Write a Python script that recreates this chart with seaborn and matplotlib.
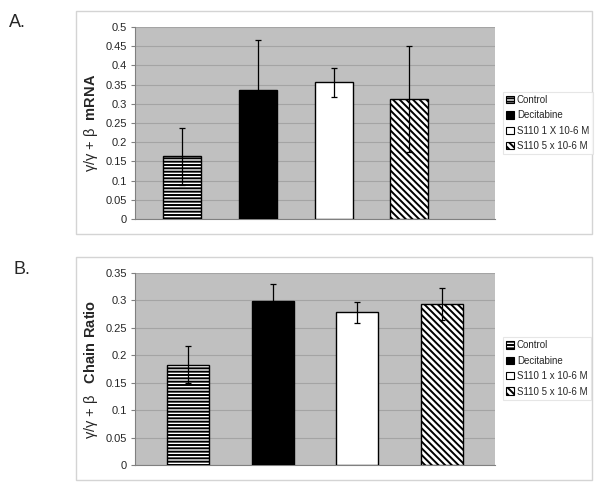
import numpy as np
import pandas as pd
import seaborn as sns
import matplotlib
matplotlib.use("Agg")
from matplotlib import pyplot as plt
from matplotlib.patches import Patch, Rectangle

# data
groups = ['Control', 'Decitabine', 'S110 1x', 'S110 5x']
mrna_mean = [0.163, 0.335, 0.356, 0.312]
mrna_err = [0.075, 0.130, 0.038, 0.138]
chain_mean = [0.183, 0.299, 0.278, 0.293]
chain_err = [0.033, 0.031, 0.019, 0.029]
legend_a = ['Control', 'Decitabine', 'S110 1 X 10-6 M', 'S110 5 x 10-6 M']
legend_b = ['Control', 'Decitabine', 'S110 1 x 10-6 M', 'S110 5 x 10-6 M']

sns.set_style('white')
plt.rcParams['font.family'] = ['Liberation Sans', 'DejaVu Sans']
plt.rcParams['mathtext.fontset'] = 'custom'
plt.rcParams['mathtext.bf'] = 'Liberation Sans:bold'
plt.rcParams['hatch.linewidth'] = 1.4

fills = ['white', 'black', 'white', 'white']
hatches = ['-----', None, None, '\\\\\\\\\\']

fig = plt.figure(figsize=(6, 4.9), dpi=100)

# outer chart frames
for y0 in (0.522, 0.0204):
    fig.patches.append(Rectangle((0.127, y0), 0.86, 0.455, transform=fig.transFigure,
                                 facecolor='white', edgecolor='#d4d4d4', lw=1, zorder=-5))

def panel(rect, means, errs, ymax, ystep, ylabel, labels, xlim, leg_y):
    ax = fig.add_axes(rect)
    df = pd.DataFrame({'group': groups, 'value': means})
    sns.barplot(data=df, x='group', y='value', order=groups, width=0.5,
                color='white', ax=ax, zorder=3)
    for p, fc, h in zip(ax.patches, fills, hatches):
        p.set_facecolor(fc)
        p.set_edgecolor('black')
        p.set_linewidth(1.0)
        if h:
            p.set_hatch(h)
    ax.errorbar(range(len(groups)), means, yerr=errs, fmt='none', ecolor='black',
                elinewidth=0.9, capsize=2.5, capthick=0.9, zorder=4)
    ax.set_facecolor('#c0c0c0')
    ax.set_ylim(0, ymax)
    ax.set_xlim(*xlim)
    yt = np.round(np.arange(0, ymax + 1e-9, ystep), 2)
    ax.set_yticks(yt)
    ax.set_yticklabels(['0' if v == 0 else ('%g' % v) for v in yt], fontsize=8)
    ax.yaxis.grid(True, color='#a4a4a4', lw=0.8, zorder=0)
    ax.set_axisbelow(True)
    ax.set_xticks([])
    ax.set_xlabel('')
    ax.set_ylabel(ylabel, fontsize=10.5, labelpad=4)
    ax.tick_params(axis='y', length=3, color='#808080', pad=3, left=True)
    for s in ('top', 'right'):
        ax.spines[s].set_visible(False)
    for s in ('left', 'bottom'):
        ax.spines[s].set_color('#808080')
        ax.spines[s].set_linewidth(0.8)
    handles = [Patch(facecolor=fc, edgecolor='black', hatch=h, lw=0.8)
               for fc, h in zip(fills, hatches)]
    leg = fig.legend(handles, labels, loc='center left', bbox_to_anchor=(0.838, leg_y),
                     fontsize=7, frameon=True, fancybox=False, handlelength=0.8,
                     handleheight=0.8, handletextpad=0.3, labelspacing=0.55,
                     borderpad=0.35, borderaxespad=0, edgecolor='#e0e0e0')
    leg.get_frame().set_linewidth(0.8)
    return ax

panel([0.225, 0.553, 0.6, 0.392], mrna_mean, mrna_err, 0.5, 0.05,
      r'γ/γ + β  $\mathbf{mRNA}$', legend_a, (-0.62, 4.13), 0.749)
panel([0.225, 0.051, 0.6, 0.392], chain_mean, chain_err, 0.35, 0.05,
      r'γ/γ + β   $\mathbf{Chain\ Ratio}$', legend_b, (-0.63, 3.63), 0.248)

fig.text(0.015, 0.955, 'A.', fontsize=13, va='center')
fig.text(0.023, 0.451, 'B.', fontsize=13, va='center')

fig.savefig('out.png', dpi=100)
